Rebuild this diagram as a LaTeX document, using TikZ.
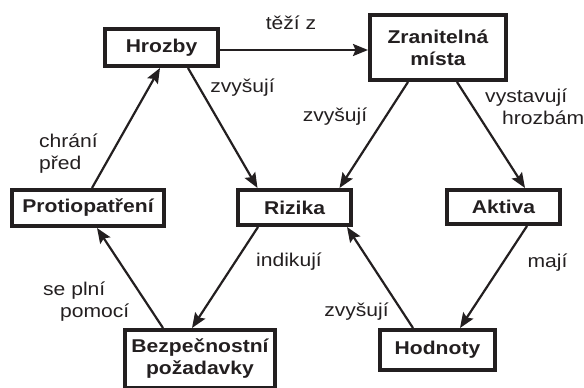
\documentclass[tikz,border=0pt]{standalone}
\usepackage{fontspec}
\setmainfont[FakeStretch=1.14]{Liberation Sans}
\usetikzlibrary{arrows.meta}
\definecolor{ink}{HTML}{231F20}
\newcommand\labsize{\fontsize{18.5}{22}\selectfont}
\tikzset{
  box/.style={draw=ink, line width=4pt, fill=white, text=ink, font=\labsize\bfseries, align=center, inner sep=0pt},
  lbl/.style={text=ink, inner sep=0pt, font=\labsize},
  conn/.style={draw=ink, line width=2.2pt, -{Stealth[length=15pt,width=12pt,inset=2.5pt]}}
}
\begin{document}
\begin{tikzpicture}[x=1pt,y=1pt]
\useasboundingbox (0,0) rectangle (584,-388);
\clip (0,0) rectangle (584,-388);
\node[box, minimum width=113pt, minimum height=37pt] (hro) at (161.5,-47.5) {Hrozby};
\node[box, minimum width=136pt, minimum height=65pt] (zra) at (438,-47.5) {Zranitelná\\místa};
\node[box, minimum width=152pt, minimum height=36pt] (pro) at (88,-208) {Protiopatření};
\node[box, minimum width=113pt, minimum height=35pt] (riz) at (294.5,-207.5) {Rizika};
\node[box, minimum width=113pt, minimum height=34pt] (akt) at (503.5,-207) {Aktiva};
\node[box, minimum width=150pt, minimum height=58pt] (bez) at (200,-359) {Bezpečnostní\\požadavky};
\node[box, minimum width=115pt, minimum height=40pt] (hod) at (437.5,-350) {Hodnoty};

\draw[conn] ([yshift=-2.5pt]hro.east) -- ([yshift=-2.5pt]zra.west);
\draw[conn] ([xshift=4pt]pro.north) -- ([xshift=-1.5pt]hro.south);
\draw[conn] ([xshift=26.5pt]hro.south) -- ([xshift=-37pt]riz.north);
\draw[conn] ([xshift=-30pt]zra.south) -- ([xshift=45pt]riz.north);
\draw[conn] ([xshift=19pt]zra.south) -- ([xshift=21.5pt]akt.north);
\draw[conn] ([xshift=23.5pt]akt.south) -- ([xshift=22.5pt]hod.north);
\draw[conn] ([xshift=-24.5pt]hod.north) -- ([xshift=52.5pt]riz.south);
\draw[conn] ([xshift=-36.5pt]riz.south) -- ([xshift=-8pt]bez.north);
\draw[conn] ([xshift=-37pt]bez.north) -- ([xshift=9pt]pro.south);

\node[lbl] (l1) at (291,-23) {těží z};
\node[lbl] (l2) at (242.5,-88) {zvyšují};
\node[lbl, align=left, anchor=west] (l3) at (39,-154) {chrání\\před};
\node[lbl] (l4) at (335,-117) {zvyšují};
\node[lbl, align=left, anchor=west] (l5) at (485,-107) {vystavují\\\hspace*{17pt}hrozbám};
\node[lbl] (l6) at (289,-262) {indikují};
\node[lbl, align=left, anchor=west] (l7) at (43,-302) {se plní\\\hspace*{17pt}pomocí};
\node[lbl] (l8) at (547.5,-263) {mají};
\node[lbl] (l9) at (356.5,-312) {zvyšují};
\end{tikzpicture}
\end{document}
